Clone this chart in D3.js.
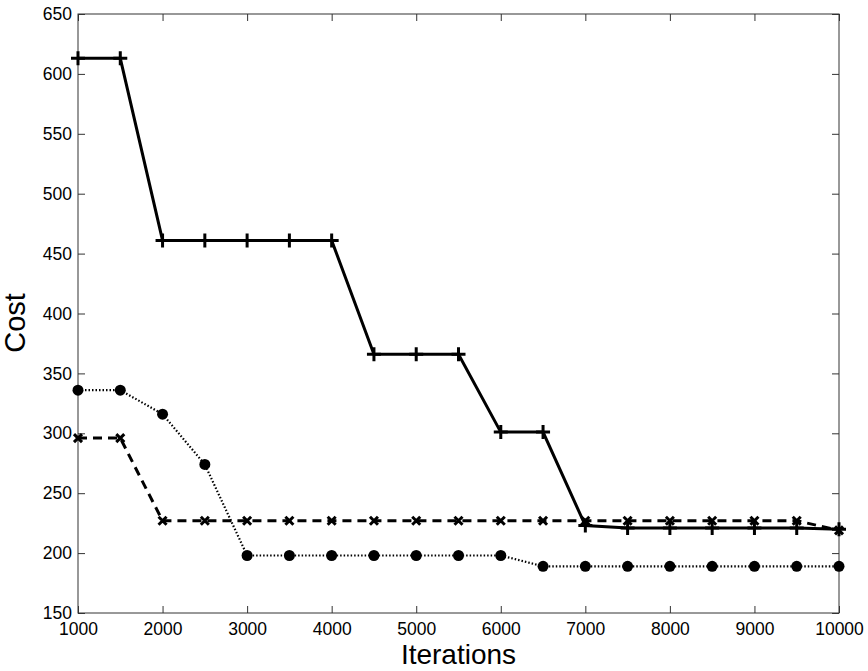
<!DOCTYPE html>
<html>
<head>
<meta charset="utf-8">
<script src="https://cdnjs.cloudflare.com/ajax/libs/d3/7.8.5/d3.min.js"></script>
<style>
  body { margin: 0; background: #fff; }
  text { font-family: "Liberation Sans", Arial, sans-serif; fill: #000; }
</style>
</head>
<body>
<script>
var iterations = [1000, 1500, 2000, 2500, 3000, 3500, 4000, 4500, 5000, 5500,
                  6000, 6500, 7000, 7500, 8000, 8500, 9000, 9500, 10000];
var solidCost  = [613, 613, 461, 461, 461, 461, 461, 366, 366, 366,
                  301, 301, 223, 221, 221, 221, 221, 221, 220];
var dashedCost = [296, 296, 227, 227, 227, 227, 227, 227, 227, 227,
                  227, 227, 227, 227, 227, 227, 227, 227, 219];
var dottedCost = [336, 336, 316, 274, 198, 198, 198, 198, 198, 198,
                  198, 189, 189, 189, 189, 189, 189, 189, 189];
var xTicks = [1000, 2000, 3000, 4000, 5000, 6000, 7000, 8000, 9000, 10000];
var yTicks = [150, 200, 250, 300, 350, 400, 450, 500, 550, 600, 650];

var width = 868, height = 671;
var margin = {left: 78, right: 29, top: 14, bottom: 58};

var svg = d3.select("body").append("svg").attr("width", width).attr("height", height);

var x = d3.scaleLinear().domain([1000, 10000]).range([margin.left, width - margin.right]);
var y = d3.scaleLinear().domain([150, 650]).range([height - margin.bottom, margin.top]);

var axisColor = "#333";

// box
svg.append("rect")
    .attr("x", x(1000)).attr("y", y(650))
    .attr("width", x(10000) - x(1000)).attr("height", y(150) - y(650))
    .attr("fill", "none").attr("stroke", axisColor).attr("stroke-width", 1);

// inward ticks on all four sides
function styleAxis(g) {
    g.select(".domain").remove();
    g.selectAll(".tick line").attr("stroke", axisColor);
    g.selectAll(".tick text").style("font-size", "17.5px").attr("fill", "#000");
}
svg.append("g").attr("transform", "translate(0," + y(150) + ")")
    .call(d3.axisBottom(x).tickValues(xTicks).tickSizeInner(-7).tickPadding(10).tickFormat(d3.format("d")))
    .call(styleAxis);
svg.append("g").attr("transform", "translate(0," + y(650) + ")")
    .call(d3.axisTop(x).tickValues(xTicks).tickSizeInner(-7).tickFormat(""))
    .call(styleAxis);
svg.append("g").attr("transform", "translate(" + x(1000) + ",0)")
    .call(d3.axisLeft(y).tickValues(yTicks).tickSizeInner(-7).tickPadding(6).tickFormat(d3.format("d")))
    .call(styleAxis);
svg.append("g").attr("transform", "translate(" + x(10000) + ",0)")
    .call(d3.axisRight(y).tickValues(yTicks).tickSizeInner(-7).tickFormat(""))
    .call(styleAxis);

// axis labels
svg.append("text")
    .attr("text-anchor", "middle")
    .attr("x", (x(1000) + x(10000)) / 2)
    .attr("y", 664)
    .style("font-size", "28px")
    .text("Iterations");
svg.append("text")
    .attr("text-anchor", "middle")
    .attr("transform", "translate(25,323) rotate(-90)")
    .style("font-size", "29px")
    .text("Cost");

var line = d3.line()
    .x(function (d) { return x(d[0]); })
    .y(function (d) { return y(d[1]); });

function series(vals) {
    return iterations.map(function (it, i) { return [it, vals[i]]; });
}

var plot = svg.append("g");

// dotted series with filled circles
plot.append("path")
    .datum(series(dottedCost))
    .attr("d", line)
    .attr("fill", "none").attr("stroke", "#000").attr("stroke-width", 2.2)
    .attr("stroke-dasharray", "1.5,2");
plot.append("g").selectAll("circle")
    .data(series(dottedCost))
    .enter().append("circle")
    .attr("cx", function (d) { return x(d[0]); })
    .attr("cy", function (d) { return y(d[1]); })
    .attr("r", 5.5)
    .attr("fill", "#000");

// dashed series with x markers
plot.append("path")
    .datum(series(dashedCost))
    .attr("d", line)
    .attr("fill", "none").attr("stroke", "#000").attr("stroke-width", 3)
    .attr("stroke-dasharray", "9,6");
plot.append("g").selectAll("path")
    .data(series(dashedCost))
    .enter().append("path")
    .attr("transform", function (d) { return "translate(" + x(d[0]) + "," + y(d[1]) + ")"; })
    .attr("d", "M-4,-4L4,4M-4,4L4,-4")
    .attr("stroke", "#000").attr("stroke-width", 3);

// solid series with + markers
plot.append("path")
    .datum(series(solidCost))
    .attr("d", line)
    .attr("fill", "none").attr("stroke", "#000").attr("stroke-width", 3);
plot.append("g").selectAll("path")
    .data(series(solidCost))
    .enter().append("path")
    .attr("transform", function (d) { return "translate(" + x(d[0]) + "," + y(d[1]) + ")"; })
    .attr("d", "M-7,0L7,0M0,-7L0,7")
    .attr("stroke", "#000").attr("stroke-width", 3);
</script>
</body>
</html>
